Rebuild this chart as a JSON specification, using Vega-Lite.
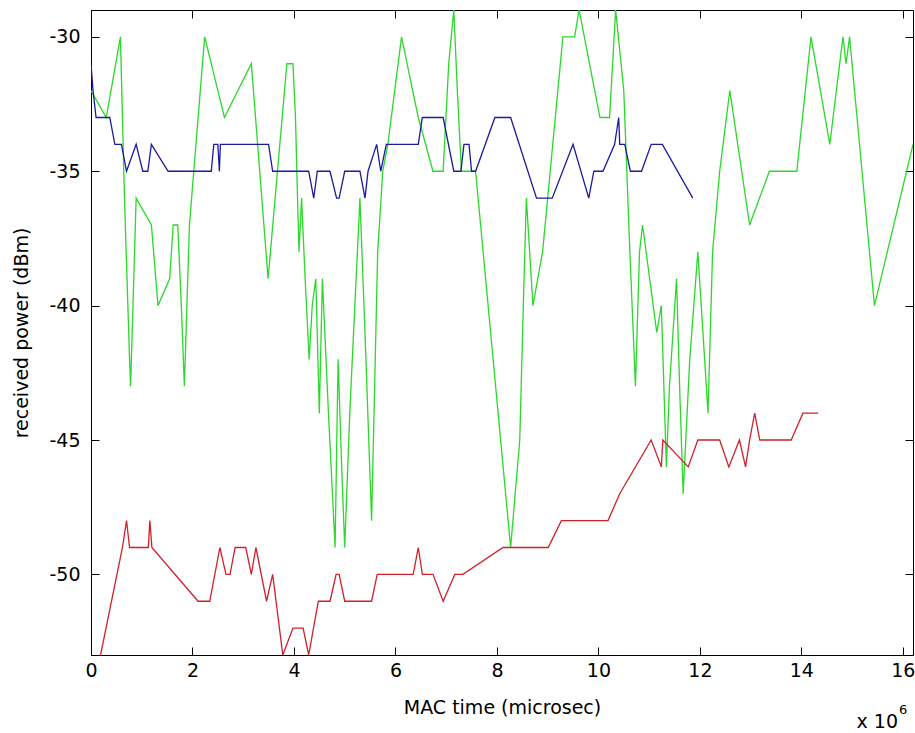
{
  "$schema": "https://vega.github.io/schema/vega-lite/v6.json",
  "autosize": "none",
  "width": 822,
  "height": 645,
  "padding": {"left": 91, "top": 10, "right": 2, "bottom": 78},
  "background": "white",
  "config": {
    "font": "DejaVu Sans",
    "view": {"stroke": "#000", "strokeWidth": 1},
    "axis": {"grid": false, "domainColor": "#000", "tickColor": "#000", "labelColor": "#000", "titleColor": "#000", "titleFontWeight": "normal", "labelFlush": false}
  },
  "data": {"values": [
    {"series": "green", "t": 0.00, "p": -32}, {"series": "green", "t": 0.30, "p": -33}, {"series": "green", "t": 0.58, "p": -30}, {"series": "green", "t": 0.66, "p": -36}, {"series": "green", "t": 0.76, "p": -42}, {"series": "green", "t": 0.78, "p": -43}, {"series": "green", "t": 0.89, "p": -36}, {"series": "green", "t": 1.19, "p": -37}, {"series": "green", "t": 1.32, "p": -40}, {"series": "green", "t": 1.55, "p": -39}, {"series": "green", "t": 1.62, "p": -37}, {"series": "green", "t": 1.71, "p": -37}, {"series": "green", "t": 1.78, "p": -40}, {"series": "green", "t": 1.84, "p": -43}, {"series": "green", "t": 1.94, "p": -37}, {"series": "green", "t": 2.24, "p": -30}, {"series": "green", "t": 2.63, "p": -33}, {"series": "green", "t": 3.16, "p": -31}, {"series": "green", "t": 3.49, "p": -39}, {"series": "green", "t": 3.86, "p": -31}, {"series": "green", "t": 3.98, "p": -31}, {"series": "green", "t": 4.03, "p": -33}, {"series": "green", "t": 4.07, "p": -36}, {"series": "green", "t": 4.10, "p": -38}, {"series": "green", "t": 4.15, "p": -36}, {"series": "green", "t": 4.22, "p": -39}, {"series": "green", "t": 4.30, "p": -42}, {"series": "green", "t": 4.36, "p": -40}, {"series": "green", "t": 4.43, "p": -39}, {"series": "green", "t": 4.50, "p": -44}, {"series": "green", "t": 4.56, "p": -39}, {"series": "green", "t": 4.68, "p": -44}, {"series": "green", "t": 4.81, "p": -49}, {"series": "green", "t": 4.87, "p": -42}, {"series": "green", "t": 4.94, "p": -46}, {"series": "green", "t": 5.00, "p": -49}, {"series": "green", "t": 5.10, "p": -44}, {"series": "green", "t": 5.30, "p": -36}, {"series": "green", "t": 5.40, "p": -41}, {"series": "green", "t": 5.53, "p": -48}, {"series": "green", "t": 5.65, "p": -38}, {"series": "green", "t": 5.75, "p": -35}, {"series": "green", "t": 5.85, "p": -34}, {"series": "green", "t": 6.12, "p": -30}, {"series": "green", "t": 6.45, "p": -33}, {"series": "green", "t": 6.74, "p": -35}, {"series": "green", "t": 6.94, "p": -35}, {"series": "green", "t": 7.05, "p": -31}, {"series": "green", "t": 7.15, "p": -29}, {"series": "green", "t": 7.22, "p": -32}, {"series": "green", "t": 7.30, "p": -35}, {"series": "green", "t": 7.58, "p": -35}, {"series": "green", "t": 8.27, "p": -49}, {"series": "green", "t": 8.45, "p": -45}, {"series": "green", "t": 8.52, "p": -40}, {"series": "green", "t": 8.58, "p": -36}, {"series": "green", "t": 8.71, "p": -40}, {"series": "green", "t": 8.90, "p": -38}, {"series": "green", "t": 9.30, "p": -30}, {"series": "green", "t": 9.53, "p": -30}, {"series": "green", "t": 9.62, "p": -29}, {"series": "green", "t": 10.03, "p": -33}, {"series": "green", "t": 10.22, "p": -33}, {"series": "green", "t": 10.34, "p": -29}, {"series": "green", "t": 10.50, "p": -32}, {"series": "green", "t": 10.62, "p": -38}, {"series": "green", "t": 10.73, "p": -43}, {"series": "green", "t": 10.81, "p": -38}, {"series": "green", "t": 10.87, "p": -37}, {"series": "green", "t": 11.15, "p": -41}, {"series": "green", "t": 11.24, "p": -40}, {"series": "green", "t": 11.34, "p": -46}, {"series": "green", "t": 11.40, "p": -43}, {"series": "green", "t": 11.54, "p": -39}, {"series": "green", "t": 11.60, "p": -43}, {"series": "green", "t": 11.67, "p": -47}, {"series": "green", "t": 11.80, "p": -42}, {"series": "green", "t": 11.96, "p": -38}, {"series": "green", "t": 12.16, "p": -44}, {"series": "green", "t": 12.25, "p": -38}, {"series": "green", "t": 12.39, "p": -35}, {"series": "green", "t": 12.59, "p": -32}, {"series": "green", "t": 12.98, "p": -37}, {"series": "green", "t": 13.37, "p": -35}, {"series": "green", "t": 13.91, "p": -35}, {"series": "green", "t": 14.19, "p": -30}, {"series": "green", "t": 14.56, "p": -34}, {"series": "green", "t": 14.82, "p": -30}, {"series": "green", "t": 14.88, "p": -31}, {"series": "green", "t": 14.95, "p": -30}, {"series": "green", "t": 15.44, "p": -40}, {"series": "green", "t": 16.20, "p": -34},
    {"series": "blue", "t": 0.00, "p": -31}, {"series": "blue", "t": 0.04, "p": -32}, {"series": "blue", "t": 0.10, "p": -33}, {"series": "blue", "t": 0.37, "p": -33}, {"series": "blue", "t": 0.47, "p": -34}, {"series": "blue", "t": 0.60, "p": -34}, {"series": "blue", "t": 0.70, "p": -35}, {"series": "blue", "t": 0.89, "p": -34}, {"series": "blue", "t": 1.02, "p": -35}, {"series": "blue", "t": 1.12, "p": -35}, {"series": "blue", "t": 1.19, "p": -34}, {"series": "blue", "t": 1.52, "p": -35}, {"series": "blue", "t": 2.37, "p": -35}, {"series": "blue", "t": 2.42, "p": -34}, {"series": "blue", "t": 2.50, "p": -34}, {"series": "blue", "t": 2.53, "p": -35}, {"series": "blue", "t": 2.55, "p": -34}, {"series": "blue", "t": 3.50, "p": -34}, {"series": "blue", "t": 3.58, "p": -35}, {"series": "blue", "t": 4.29, "p": -35}, {"series": "blue", "t": 4.39, "p": -36}, {"series": "blue", "t": 4.46, "p": -35}, {"series": "blue", "t": 4.71, "p": -35}, {"series": "blue", "t": 4.84, "p": -36}, {"series": "blue", "t": 4.89, "p": -36}, {"series": "blue", "t": 5.00, "p": -35}, {"series": "blue", "t": 5.30, "p": -35}, {"series": "blue", "t": 5.40, "p": -36}, {"series": "blue", "t": 5.46, "p": -35}, {"series": "blue", "t": 5.63, "p": -34}, {"series": "blue", "t": 5.71, "p": -35}, {"series": "blue", "t": 5.82, "p": -34}, {"series": "blue", "t": 6.45, "p": -34}, {"series": "blue", "t": 6.53, "p": -33}, {"series": "blue", "t": 6.94, "p": -33}, {"series": "blue", "t": 7.15, "p": -35}, {"series": "blue", "t": 7.29, "p": -35}, {"series": "blue", "t": 7.35, "p": -34}, {"series": "blue", "t": 7.45, "p": -34}, {"series": "blue", "t": 7.50, "p": -35}, {"series": "blue", "t": 7.58, "p": -35}, {"series": "blue", "t": 7.96, "p": -33}, {"series": "blue", "t": 8.27, "p": -33}, {"series": "blue", "t": 8.78, "p": -36}, {"series": "blue", "t": 9.09, "p": -36}, {"series": "blue", "t": 9.50, "p": -34}, {"series": "blue", "t": 9.81, "p": -36}, {"series": "blue", "t": 9.91, "p": -35}, {"series": "blue", "t": 10.09, "p": -35}, {"series": "blue", "t": 10.32, "p": -34}, {"series": "blue", "t": 10.40, "p": -33}, {"series": "blue", "t": 10.42, "p": -34}, {"series": "blue", "t": 10.52, "p": -34}, {"series": "blue", "t": 10.63, "p": -35}, {"series": "blue", "t": 10.85, "p": -35}, {"series": "blue", "t": 11.04, "p": -34}, {"series": "blue", "t": 11.26, "p": -34}, {"series": "blue", "t": 11.86, "p": -36},
    {"series": "red", "t": 0.08, "p": -54}, {"series": "red", "t": 0.62, "p": -49}, {"series": "red", "t": 0.70, "p": -48}, {"series": "red", "t": 0.76, "p": -49}, {"series": "red", "t": 1.13, "p": -49}, {"series": "red", "t": 1.16, "p": -48}, {"series": "red", "t": 1.20, "p": -49}, {"series": "red", "t": 2.11, "p": -51}, {"series": "red", "t": 2.34, "p": -51}, {"series": "red", "t": 2.54, "p": -49}, {"series": "red", "t": 2.66, "p": -50}, {"series": "red", "t": 2.74, "p": -50}, {"series": "red", "t": 2.84, "p": -49}, {"series": "red", "t": 3.05, "p": -49}, {"series": "red", "t": 3.16, "p": -50}, {"series": "red", "t": 3.25, "p": -49}, {"series": "red", "t": 3.46, "p": -51}, {"series": "red", "t": 3.58, "p": -50}, {"series": "red", "t": 3.78, "p": -53}, {"series": "red", "t": 3.98, "p": -52}, {"series": "red", "t": 4.18, "p": -52}, {"series": "red", "t": 4.29, "p": -53}, {"series": "red", "t": 4.48, "p": -51}, {"series": "red", "t": 4.71, "p": -51}, {"series": "red", "t": 4.83, "p": -50}, {"series": "red", "t": 4.89, "p": -50}, {"series": "red", "t": 5.00, "p": -51}, {"series": "red", "t": 5.53, "p": -51}, {"series": "red", "t": 5.64, "p": -50}, {"series": "red", "t": 6.35, "p": -50}, {"series": "red", "t": 6.45, "p": -49}, {"series": "red", "t": 6.53, "p": -50}, {"series": "red", "t": 6.74, "p": -50}, {"series": "red", "t": 6.94, "p": -51}, {"series": "red", "t": 7.17, "p": -50}, {"series": "red", "t": 7.33, "p": -50}, {"series": "red", "t": 8.12, "p": -49}, {"series": "red", "t": 9.01, "p": -49}, {"series": "red", "t": 9.27, "p": -48}, {"series": "red", "t": 10.19, "p": -48}, {"series": "red", "t": 10.42, "p": -47}, {"series": "red", "t": 11.04, "p": -45}, {"series": "red", "t": 11.24, "p": -46}, {"series": "red", "t": 11.27, "p": -45}, {"series": "red", "t": 11.77, "p": -46}, {"series": "red", "t": 11.96, "p": -45}, {"series": "red", "t": 12.39, "p": -45}, {"series": "red", "t": 12.57, "p": -46}, {"series": "red", "t": 12.78, "p": -45}, {"series": "red", "t": 12.90, "p": -46}, {"series": "red", "t": 12.98, "p": -45}, {"series": "red", "t": 13.08, "p": -44}, {"series": "red", "t": 13.18, "p": -45}, {"series": "red", "t": 13.80, "p": -45}, {"series": "red", "t": 14.03, "p": -44}, {"series": "red", "t": 14.33, "p": -44}
  ]},
  "layer": [
    {
      "mark": {"type": "line", "clip": true, "strokeWidth": 1.3, "interpolate": "linear"},
      "encoding": {
        "x": {"field": "t", "type": "quantitative", "scale": {"domain": [0, 16.2], "nice": false, "zero": false},
              "axis": {"orient": "bottom", "values": [0, 2, 4, 6, 8, 10, 12, 14, 16], "tickSize": -8, "labelFontSize": 19, "labelPadding": 14, "title": "MAC time (microsec)", "titleFontSize": 19, "titlePadding": 18}},
        "y": {"field": "p", "type": "quantitative", "scale": {"domain": [-53, -29], "nice": false, "zero": false},
              "axis": {"orient": "left", "values": [-30, -35, -40, -45, -50], "labelExpr": "'' + datum.value", "tickSize": -8, "labelFontSize": 19, "labelPadding": 19, "title": "received power (dBm)", "titleFontSize": 19, "titlePadding": 17}},
        "color": {"field": "series", "type": "nominal", "scale": {"domain": ["green", "blue", "red"], "range": ["#2bd82b", "#1b1b9e", "#d0202a"]}, "legend": null},
        "order": {"field": "t", "type": "quantitative"}
      }
    },
    {
      "mark": {"type": "line", "opacity": 0},
      "encoding": {
        "x": {"field": "t", "type": "quantitative", "axis": {"orient": "top", "values": [0, 2, 4, 6, 8, 10, 12, 14, 16], "tickSize": -8, "labels": false, "title": null, "domain": false}},
        "y": {"field": "p", "type": "quantitative", "axis": {"orient": "right", "values": [-30, -35, -40, -45, -50], "tickSize": -8, "labels": false, "title": null, "domain": false}},
        "detail": {"field": "series"}
      }
    },
    {
      "data": {"values": [{"label": "x 10"}]},
      "mark": {"type": "text", "align": "right", "baseline": "alphabetic", "fontSize": 19, "dy": 73, "dx": -15, "color": "#000"},
      "encoding": {
        "text": {"field": "label"},
        "x": {"datum": 16.2, "type": "quantitative", "axis": null},
        "y": {"datum": -53, "type": "quantitative", "axis": null}
      }
    },
    {
      "data": {"values": [{"label": "6"}]},
      "mark": {"type": "text", "align": "left", "baseline": "alphabetic", "fontSize": 13, "dy": 59, "dx": -14, "color": "#000"},
      "encoding": {
        "text": {"field": "label"},
        "x": {"datum": 16.2, "type": "quantitative", "axis": null},
        "y": {"datum": -53, "type": "quantitative", "axis": null}
      }
    }
  ],
  "resolve": {"axis": {"x": "independent", "y": "independent"}}
}
